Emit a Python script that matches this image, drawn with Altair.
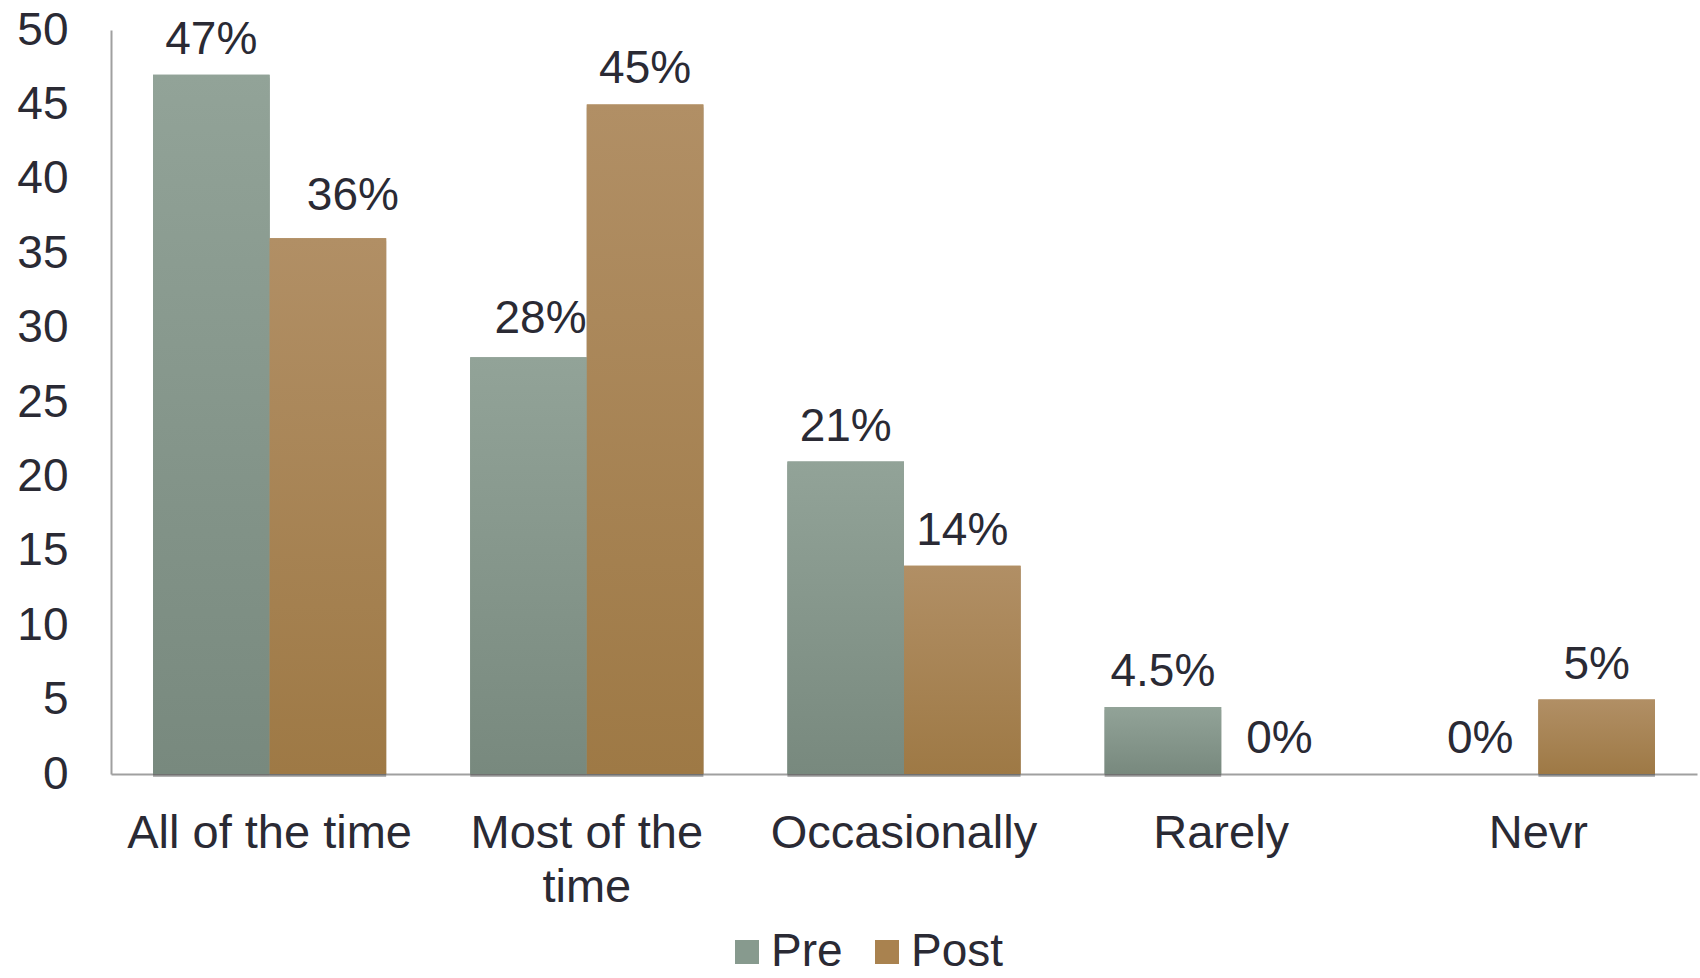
import altair as alt
import pandas as pd

# Survey responses, percent of respondents before and after
categories = ["All of the time", "Most of the time", "Occasionally", "Rarely", "Nevr"]
series = ["Pre", "Post"]
pre_values = [47, 28, 21, 4.5, 0]
post_values = [36, 45, 14, 0, 5]
y_ticks = [0, 5, 10, 15, 20, 25, 30, 35, 40, 45, 50]
wrapped_labels = {"Most of the time": ["Most of the", "time"]}

rows = []
for cat, a, b in zip(categories, pre_values, post_values):
    rows.append({"category": cat, "series": "Pre", "value": a})
    rows.append({"category": cat, "series": "Post", "value": b})
df = pd.DataFrame(rows)

TEXT = "#2a2a34"
FONT = "Liberation Sans"
AXIS_GREY = "#a0a0a0"

# value labels that sit slightly off-centre: (category, series) -> (dx, dy)
label_nudges = {
    ("All of the time", "Post"): (25, -28),
    ("Most of the time", "Pre"): (12, -24),
}

label_expr = "datum.label"
for k, v in wrapped_labels.items():
    label_expr = f"datum.label == '{k}' ? {v!r} : ({label_expr})"

x = alt.X(
    "category:N",
    sort=categories,
    scale=alt.Scale(paddingInner=0.265, paddingOuter=0.1325),
    axis=alt.Axis(
        title=None, labelFontSize=47, labelColor=TEXT, labelFont=FONT,
        labelPadding=73, labelBaseline="alphabetic", labelAngle=0,
        ticks=False, tickSize=0, domainColor=AXIS_GREY, domainWidth=2,
        labelExpr=label_expr, labelLineHeight=54, labelLimit=0,
    ),
)
x_off = alt.XOffset("series:N", sort=series,
                    scale=alt.Scale(domain=series, paddingInner=0, paddingOuter=0))
y = alt.Y(
    "value:Q",
    scale=alt.Scale(domain=[0, 50], nice=False),
    axis=alt.Axis(
        title=None, values=y_ticks, grid=False, ticks=False, tickSize=0,
        labelFontSize=46, labelFont=FONT, labelColor=TEXT, labelPadding=43,
        domainColor=AXIS_GREY, domainWidth=2,
    ),
)

base = alt.Chart(df).encode(x=x, xOffset=x_off, y=y)

# soft drop shadow: a few faint offset copies under each bar
shadows = [
    base.mark_bar(xOffset=dx, yOffset=3, color="#000000", opacity=0.11)
    for dx in (2, 4, 6)
]

solid = base.mark_bar().encode(
    color=alt.Color(
        "series:N",
        scale=alt.Scale(domain=series, range=["#879a8e", "#a9824f"]),
        legend=alt.Legend(
            title=None, orient="none", legendX=613, legendY=899,
            direction="horizontal", symbolType="square", symbolSize=576,
            symbolStrokeWidth=0, labelFontSize=46, labelFont=FONT,
            labelColor=TEXT, labelOffset=1, columnPadding=21,
        ),
    )
)


def grad(top, bottom):
    return alt.LinearGradient(
        gradient="linear", x1=0, y1=0, x2=0, y2=1,
        stops=[alt.GradientStop(offset=0, color=top),
               alt.GradientStop(offset=1, color=bottom)],
    )


pre_bars = base.transform_filter("datum.series == 'Pre'").mark_bar(
    color=grad("#92a398", "#78897e"))
post_bars = base.transform_filter("datum.series == 'Post'").mark_bar(
    color=grad("#b18f65", "#9e7945"))

text_base = base.transform_calculate(label="datum.value + '%'")
text_style = dict(baseline="alphabetic", align="center",
                  fontSize=46, font=FONT, color=TEXT)


def match(cat, ser):
    return f"(datum.category == '{cat}' && datum.series == '{ser}')"


nudged = " || ".join(match(c, s) for c, s in label_nudges) or "false"
label_layers = [
    text_base.transform_filter(f"!({nudged})")
    .mark_text(dy=-21, **text_style).encode(text="label:N")
]
for (cat, ser), (dx, dy) in label_nudges.items():
    label_layers.append(
        text_base.transform_filter(match(cat, ser))
        .mark_text(dx=dx, dy=dy, **text_style).encode(text="label:N")
    )

chart = alt.layer(*shadows, solid, pre_bars, post_bars, *label_layers).properties(
    width=1586, height=744,
    padding={"left": 111, "top": 30, "right": 3, "bottom": 204},
    autosize=alt.AutoSizeParams(type="none"),
).configure_view(stroke=None)

chart.save("out.html", embed_options={"renderer": "svg", "actions": False})
